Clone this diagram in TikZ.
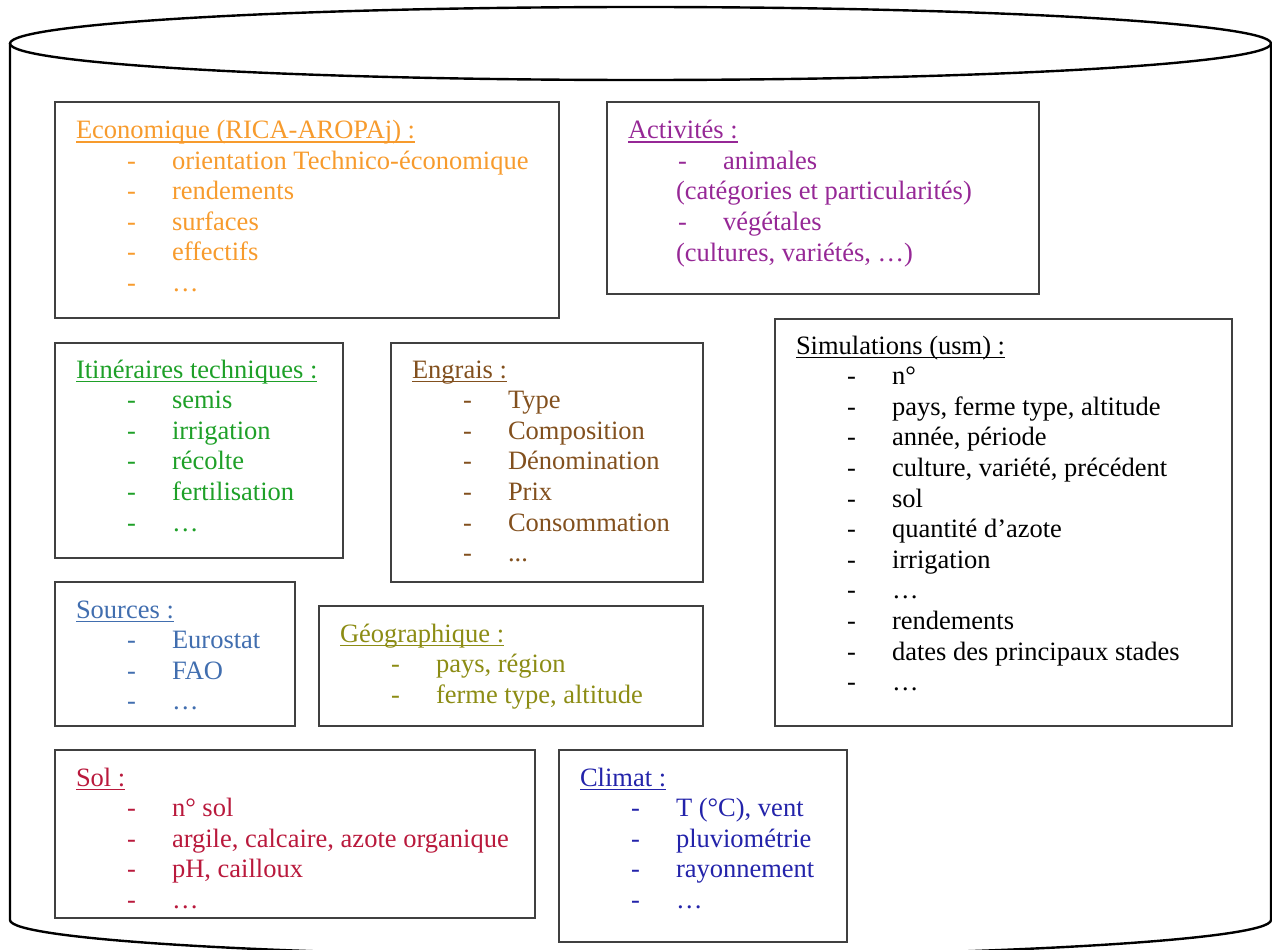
\documentclass[tikz,border=0pt]{standalone}
\usepackage{fontspec}
\setmainfont{Liberation Serif}
\definecolor{corange}{RGB}{247,155,45}
\definecolor{cpurple}{RGB}{150,40,150}
\definecolor{cgreen}{RGB}{30,160,40}
\definecolor{cbrown}{RGB}{130,80,30}
\definecolor{csteel}{RGB}{65,110,175}
\definecolor{colive}{RGB}{140,140,20}
\definecolor{ccrimson}{RGB}{185,25,60}
\definecolor{cnavy}{RGB}{35,35,170}
\newcommand\myul[1]{\setbox0\hbox{#1}\rlap{\rule[-4pt]{\wd0}{1.4pt}}\box0}
\newcommand\tdots{.\kern0pt.\kern0pt.}
\newcommand\hdots{…}
% #1 name, #2 left x, #3 title baseline, #4 colour, #5 title, #6 items
\newcommand\block[6]{%
  \node[txt,text=#4] (#1-t) at (#2+21,#3) {\myul{#5}};
  \foreach \lbl [count=\i] in {#6} {
    \node[txt,text=#4] (#1-d\i) at (#2+72,#3+30.6*\i) {-};
    \node[txt,text=#4] (#1-\i) at (#2+117,#3+30.6*\i) {\lbl};
  }%
}
% #1 name, #2 left, #3 top, #4 right, #5 bottom
\newcommand\boxat[5]{%
  \node[box,minimum width={#4-#2},minimum height={#5-#3}] (#1) at (#2,#3) {};%
}
\begin{document}
\begin{tikzpicture}[x=1pt,y=-1pt,
  txt/.style={inner sep=0pt,outer sep=0pt,anchor=base west,font=\fontsize{26.5}{30.5}\selectfont},
  box/.style={draw=black!75,line width=2pt,anchor=north west,inner sep=0pt,outer sep=0pt},
  cyl/.style={line width=2.4pt,black}]
\useasboundingbox (0,0) rectangle (1272,950);
% cylinder
\draw[cyl] (640.5,43.5) ellipse [x radius=630.5, y radius=36.5];
\draw[cyl] (10,43.5) -- (10,920)
  .. controls (10,940.2) and (292.3,956.5) .. (640.5,956.5)
  .. controls (988.7,956.5) and (1271,940.2) .. (1271,920) -- (1271,43.5);
% boxes
\boxat{eco}{55}{102}{559}{318}
\boxat{act}{607}{102}{1039}{294}
\boxat{iti}{55}{343}{343}{558}
\boxat{eng}{391}{343}{703}{582}
\boxat{sim}{775}{319}{1232}{726}
\boxat{src}{55}{582}{295}{726}
\boxat{geo}{319}{606}{703}{726}
\boxat{sol}{55}{750}{535}{918}
\boxat{cli}{559}{750}{847}{942}
% texts
\block{ecot}{55}{138.5}{corange}{Economique (RICA-AROPAj) :}{orientation Technico-économique,rendements,surfaces,effectifs,\hdots}
\node[txt,text=cpurple] (act-t) at (628,138.5) {\myul{Activités :}};
\node[txt,text=cpurple] (act-d1) at (678,169) {-};
\node[txt,text=cpurple] (act-1) at (723,169) {animales};
\node[txt,text=cpurple] (act-2) at (676,199.5) {(catégories et particularités)};
\node[txt,text=cpurple] (act-d3) at (678,230) {-};
\node[txt,text=cpurple] (act-3) at (723,230) {végétales};
\node[txt,text=cpurple] (act-4) at (676,261) {(cultures, variétés, \hdots)};
\block{itit}{55}{378}{cgreen}{Itinéraires techniques :}{semis,irrigation,récolte,fertilisation,\hdots}
\block{engt}{391}{378}{cbrown}{Engrais :}{Type,Composition,Dénomination,Prix,Consommation,\tdots}
\block{simt}{775}{354}{black}{Simulations (usm) :}{n°,{pays, ferme type, altitude},{année, période},{culture, variété, précédent},sol,quantité d’azote,irrigation,\hdots,rendements,dates des principaux stades,\hdots}
\block{srct}{55}{618}{csteel}{Sources :}{Eurostat,FAO,\hdots}
\block{geot}{319}{642}{colive}{Géographique :}{{pays, région},{ferme type, altitude}}
\block{solt}{55}{786}{ccrimson}{Sol :}{n° sol,{argile, calcaire, azote organique},{pH, cailloux},\hdots}
\block{clit}{559}{786}{cnavy}{Climat :}{{T (°C), vent},pluviométrie,rayonnement,\hdots}
\end{tikzpicture}
\end{document}
